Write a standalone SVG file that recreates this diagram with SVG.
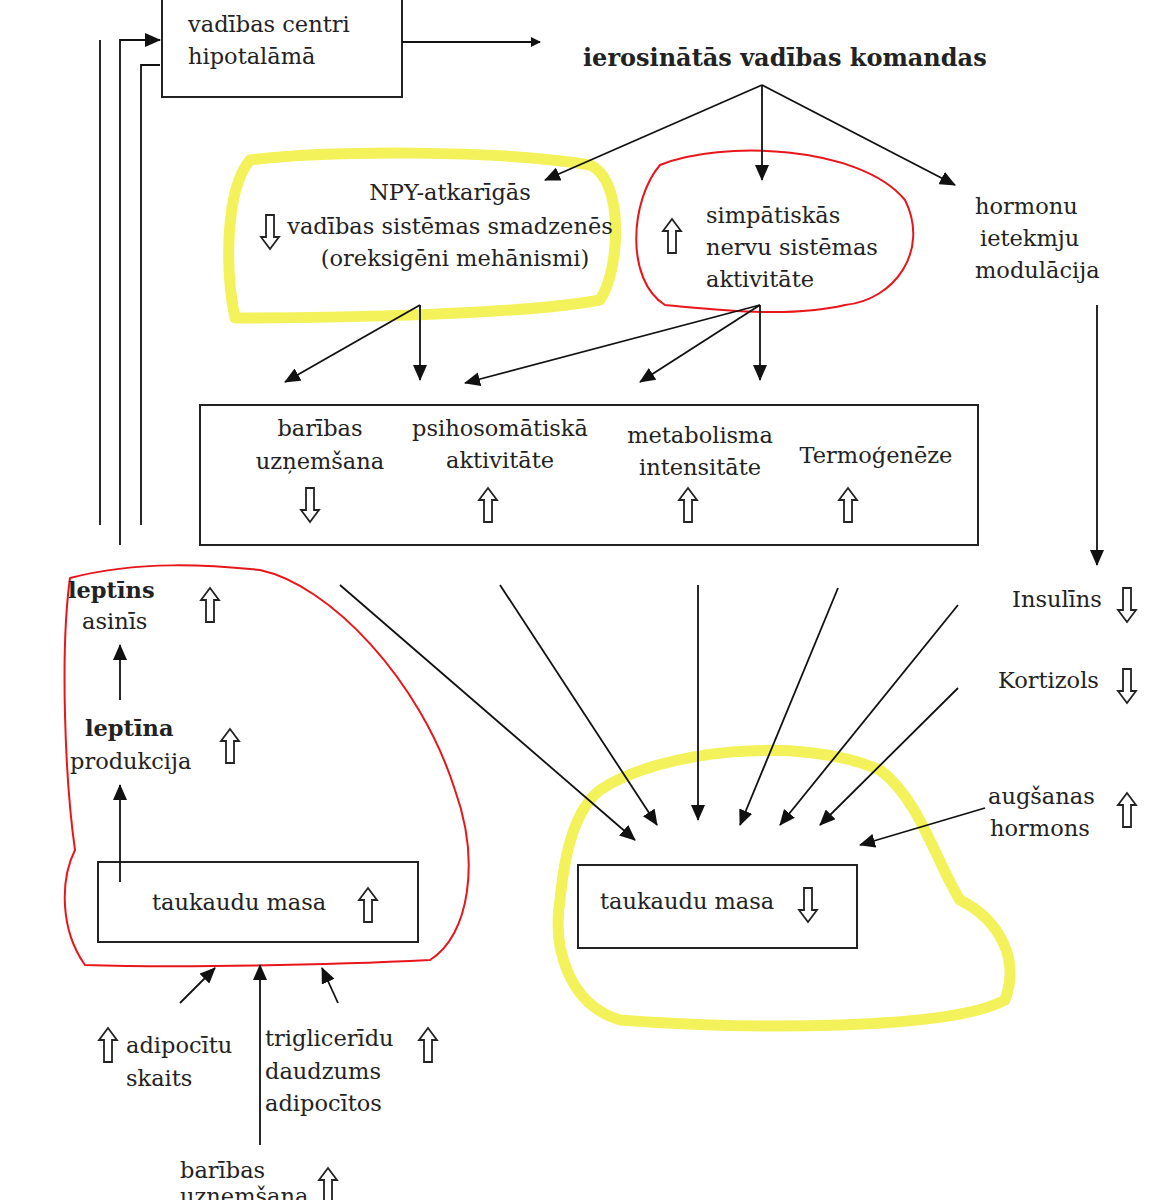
<svg xmlns="http://www.w3.org/2000/svg" width="1166" height="1200" viewBox="0 0 1166 1200">
<defs>
<marker id="ah" markerWidth="10" markerHeight="10" refX="9" refY="5" orient="auto" markerUnits="userSpaceOnUse" viewBox="0 0 10 10"><path d="M0,0 L10,5 L0,10 z" fill="#111"/></marker>
<marker id="ahb" markerWidth="16" markerHeight="14" refX="15" refY="7" orient="auto" markerUnits="userSpaceOnUse" viewBox="0 0 16 14"><path d="M0,0 L16,7 L0,14 z" fill="#111"/></marker>
<path id="up" d="M0,-17 L9,-5 L4,-5 L4,17 L-4,17 L-4,-5 L-9,-5 Z" fill="#fff" stroke="#222" stroke-width="1.8"/>
<path id="dn" d="M0,17 L9,5 L4,5 L4,-17 L-4,-17 L-4,5 L-9,5 Z" fill="#fff" stroke="#222" stroke-width="1.8"/>
</defs>
<style>
text{font-family:"DejaVu Serif","Liberation Serif",serif;font-size:22.5px;fill:#222}
.b{font-weight:bold}
.k{font-size:24px}
.m{text-anchor:middle}
.box{fill:none;stroke:#222;stroke-width:2}
.ln{stroke:#111;stroke-width:1.8;fill:none}
.y{fill:none;stroke:#f3f25a;stroke-width:11;stroke-linejoin:round}
.r{fill:none;stroke:#e8161b;stroke-width:2}
</style>
<rect width="1166" height="1200" fill="#fff"/>
<g id="highlights">
<path class="y" d="M250,160 C330,150 500,150 590,165 C625,180 620,270 600,300 C520,315 330,318 235,318 C225,270 225,190 250,160 Z"/>
<path class="r" d="M660,165 C720,140 860,145 905,200 C930,250 895,300 845,305 C790,318 720,310 665,305 C625,280 630,200 660,165 Z"/>
<path class="r" d="M70,578 C140,560 210,565 260,570 C330,585 420,680 455,790 C480,860 470,935 430,960 C330,965 180,968 85,965 C60,930 60,880 75,850 C65,780 60,650 70,578 Z"/>
<path class="y" d="M600,790 C660,750 800,735 880,770 C920,800 935,860 960,900 C1000,920 1020,960 1005,1000 C950,1030 750,1030 620,1020 C570,1005 552,950 560,900 C565,850 575,810 600,790 Z"/>
</g>
<g id="n_centri"><rect class="box" x="162" y="-5" width="240" height="102"/><text x="188" y="32">vadības  centri</text><text x="188" y="64">hipotalāmā</text></g>
<g id="n_komandas"><text class="b k" x="583" y="66">ierosinātās vadības komandas</text></g>
<g id="n_npy"><text class="m" x="450" y="200">NPY-atkarīgās</text><text class="m" x="450" y="234">vadības sistēmas smadzenēs</text><text class="m" x="455" y="266">(oreksigēni mehānismi)</text><use href="#dn" x="270" y="232"/></g>
<g id="n_simp"><use href="#up" x="672" y="236"/><text x="706" y="223">simpātiskās</text><text x="706" y="255">nervu sistēmas</text><text x="706" y="287">aktivitāte</text></g>
<g id="n_horm"><text x="975" y="214">hormonu</text><text x="980" y="246">ietekmju</text><text x="975" y="278">modulācija</text></g>
<g id="n_effects"><rect class="box" x="200" y="405" width="778" height="140"/>
<text class="m" x="320" y="436">barības</text><text class="m" x="320" y="469">uzņemšana</text><use href="#dn" x="310" y="505"/>
<text class="m" x="500" y="436">psihosomātiskā</text><text class="m" x="500" y="468">aktivitāte</text><use href="#up" x="488" y="505"/>
<text class="m" x="700" y="443">metabolisma</text><text class="m" x="700" y="475">intensitāte</text><use href="#up" x="688" y="505"/>
<text class="m" x="876" y="463">Termoģenēze</text><use href="#up" x="848" y="505"/></g>
<g id="n_leptins"><text class="b" x="68" y="598">leptīns</text><text x="82" y="629">asinīs</text><use href="#up" x="210" y="605"/></g>
<g id="n_leptprod"><text class="b" x="85" y="736">leptīna</text><text x="70" y="769">produkcija</text><use href="#up" x="230" y="746"/></g>
<g id="n_masa1"><rect class="box" x="98" y="862" width="320" height="80"/><text x="152" y="910">taukaudu masa</text><use href="#up" x="368" y="905"/></g>
<g id="n_masa2"><rect class="box" x="578" y="865" width="279" height="83"/><text x="600" y="909">taukaudu masa</text><use href="#dn" x="808" y="905"/></g>
<g id="n_adip"><use href="#up" x="108" y="1045"/><text x="126" y="1053">adipocītu</text><text x="126" y="1086">skaits</text></g>
<g id="n_trig"><text x="265" y="1046">triglicerīdu</text><text x="265" y="1079">daudzums</text><text x="265" y="1111">adipocītos</text><use href="#up" x="428" y="1045"/></g>
<g id="n_bar2"><text x="180" y="1178">barības</text><text x="180" y="1204">uzņemšana</text><use href="#up" x="328" y="1185"/></g>
<g id="n_ins"><text x="1012" y="607">Insulīns</text><use href="#dn" x="1127" y="605"/></g>
<g id="n_kort"><text x="998" y="688">Kortizols</text><use href="#dn" x="1127" y="686"/></g>
<g id="n_aug"><text x="988" y="804">augšanas</text><text x="990" y="836">hormons</text><use href="#up" x="1127" y="810"/></g>
<g id="connectors">
<line class="ln" x1="402" y1="42" x2="540" y2="42" marker-end="url(#ah)"/>
<line class="ln" x1="762" y1="85" x2="545" y2="180" marker-end="url(#ahb)"/>
<line class="ln" x1="762" y1="85" x2="762" y2="180" marker-end="url(#ahb)"/>
<line class="ln" x1="762" y1="85" x2="955" y2="185" marker-end="url(#ahb)"/>
<line class="ln" x1="420" y1="305" x2="285" y2="382" marker-end="url(#ahb)"/>
<line class="ln" x1="420" y1="305" x2="420" y2="380" marker-end="url(#ahb)"/>
<line class="ln" x1="760" y1="305" x2="465" y2="383" marker-end="url(#ahb)"/>
<line class="ln" x1="760" y1="305" x2="640" y2="382" marker-end="url(#ahb)"/>
<line class="ln" x1="760" y1="305" x2="760" y2="380" marker-end="url(#ahb)"/>
<line class="ln" x1="1097" y1="305" x2="1097" y2="565" marker-end="url(#ahb)"/>
<line class="ln" x1="100" y1="40" x2="100" y2="525"/>
<polyline class="ln" points="120,545 120,40 160,40" marker-end="url(#ahb)"/>
<polyline class="ln" points="141,525 141,65 160,65"/>
<line class="ln" x1="120" y1="700" x2="120" y2="645" marker-end="url(#ahb)"/>
<line class="ln" x1="120" y1="882" x2="120" y2="785" marker-end="url(#ahb)"/>
<line class="ln" x1="180" y1="1003" x2="215" y2="968" marker-end="url(#ahb)"/>
<line class="ln" x1="260" y1="1145" x2="260" y2="965" marker-end="url(#ahb)"/>
<line class="ln" x1="338" y1="1003" x2="322" y2="968" marker-end="url(#ahb)"/>
<line class="ln" x1="340" y1="585" x2="635" y2="840" marker-end="url(#ahb)"/>
<line class="ln" x1="500" y1="585" x2="657" y2="825" marker-end="url(#ahb)"/>
<line class="ln" x1="698" y1="585" x2="698" y2="820" marker-end="url(#ahb)"/>
<line class="ln" x1="838" y1="588" x2="740" y2="825" marker-end="url(#ahb)"/>
<line class="ln" x1="958" y1="605" x2="780" y2="825" marker-end="url(#ahb)"/>
<line class="ln" x1="958" y1="688" x2="820" y2="825" marker-end="url(#ahb)"/>
<line class="ln" x1="985" y1="808" x2="860" y2="845" marker-end="url(#ahb)"/>
</g>
</svg>
